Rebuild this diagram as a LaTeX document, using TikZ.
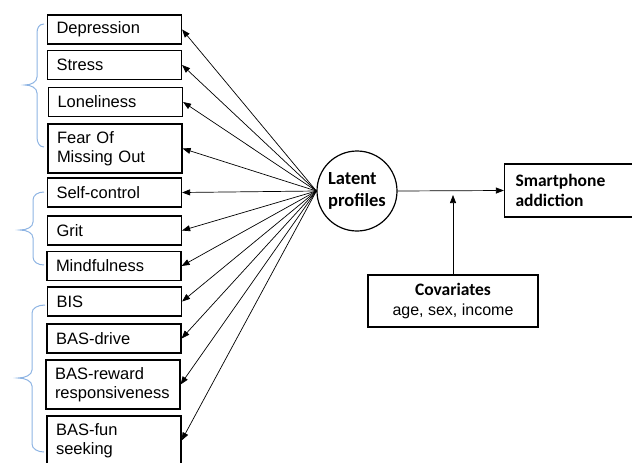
\documentclass[tikz,border=0pt]{standalone}
\usepackage{fontspec}
\setmainfont{Liberation Sans}
\newfontfamily\calibri{Carlito}
\usetikzlibrary{arrows.meta, positioning}
\definecolor{bracecol}{HTML}{8EB4E3}

\begin{document}
\begin{tikzpicture}[x=1pt, y=-1pt, >={Triangle[length=8pt, width=6pt]}, var/.style={draw, line width=1.2pt, text width=116pt, inner xsep=9pt, inner ysep=0pt, align=left, minimum height=29pt, font=\fontsize{16.5}{19}\selectfont}, latent/.style={draw, circle, line width=1.2pt, minimum size=80pt, inner sep=0pt, align=left, font=\calibri\bfseries\fontsize{18.5}{22}\selectfont}, outcome/.style={draw, line width=1.2pt, text width=113pt, inner xsep=11pt, minimum height=53pt, align=left, font=\calibri\bfseries\fontsize{17.5}{20}\selectfont}, covbox/.style={draw, line width=1.2pt, minimum width=170pt, minimum height=52pt, align=center, font=\fontsize{16}{20}\selectfont}, flow/.style={->, line width=0.7pt}, brace/.style={draw=bracecol, line width=1pt}]
\useasboundingbox (0,0) rectangle (632,463);
\node[var] (dep) at (114.5,29.5) {Depression};
\node[var] (str) at (114.5,65) {Stress};
\node[var] (lon) at (115.5,102) {Loneliness};
\node[var, minimum height=49pt] (fomo) at (115,148.5) {Fear Of\\Missing Out};
\node[var] (self) at (114.5,192.5) {Self-control};
\node[var] (grit) at (114.5,230.5) {Grit};
\node[var] (mind) at (114,266) {Mindfulness};
\node[var] (bis) at (114.5,301.5) {BIS};
\node[var] (drive) at (114,338.5) {BAS-drive};
\node[var, minimum height=49pt] (reward) at (113,384.5) {BAS-reward\\responsiveness};
\node[var, minimum height=49pt] (fun) at (114,440.5) {BAS-fun\\seeking};
\node[latent] (profiles) at (357,191) {Latent\\profiles};
\node[outcome] (addict) at (572,190.5) {Smartphone\\addiction};
\node[covbox] (cov) at (453,301) {{\calibri\bfseries\fontsize{17.5}{20}\selectfont Covariates}\\age, sex, income};
\coordinate (meet) at (453,195);
% braces grouping the indicators
\draw[brace] (44,24) .. controls (39,24) and (37,28) .. (37,33) -- (37,77) .. controls (37,82) and (31,85) .. (25,85) .. controls (31,85) and (37,88) .. (37,93) -- (37,137) .. controls (37,142) and (39,147) .. (44,147);
\draw[brace] (44,192) .. controls (38,192) and (33,195) .. (33,200) -- (33,222) .. controls (33,227) and (27,230) .. (20,230) .. controls (27,230) and (33,233) .. (33,238) -- (33,257) .. controls (33,262) and (38,265) .. (44,265);
\draw[brace] (45,305) .. controls (38,305) and (32,308) .. (32,313) -- (32,370) .. controls (32,375) and (25,378) .. (18,378) .. controls (25,378) and (32,381) .. (32,386) -- (32,444) .. controls (32,449) and (38,452) .. (44,452);
% paths
\draw[flow] (profiles.west) -- (dep.east);
\draw[flow] (profiles.west) -- (str.east);
\draw[flow] (profiles.west) -- (lon.east);
\draw[flow] (profiles.west) -- (fomo.east);
\draw[flow] (profiles.west) -- (self.east);
\draw[flow] (profiles.west) -- (grit.east);
\draw[flow] (profiles.west) -- (mind.east);
\draw[flow] (profiles.west) -- (bis.east);
\draw[flow] (profiles.west) -- (drive.east);
\draw[flow] (profiles.west) -- (reward.east);
\draw[flow] (profiles.west) -- (fun.east);
\draw[flow] (profiles.east) -- (addict.west);
\draw[flow] (cov.north) -- (meet);
\end{tikzpicture}
\end{document}
